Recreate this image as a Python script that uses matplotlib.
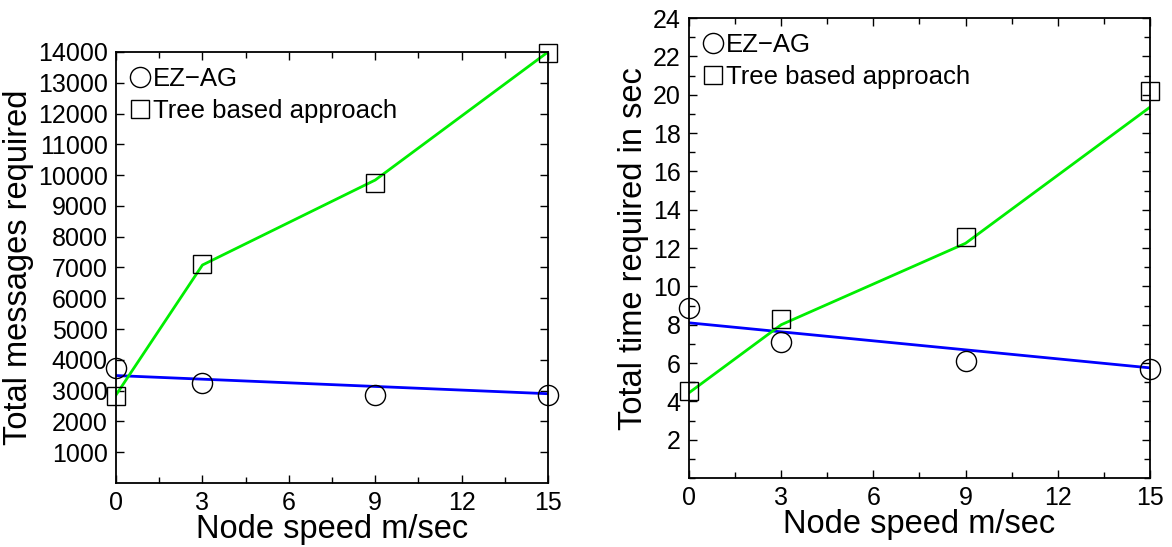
import matplotlib
matplotlib.use("Agg")
import matplotlib.pyplot as plt
from matplotlib.ticker import MultipleLocator, FixedLocator
from matplotlib.lines import Line2D

plt.rcParams['font.family'] = ['Liberation Sans', 'DejaVu Sans']

speed = [0, 3, 9, 15]
fit_speed = [0, 15]

# total messages
msgs_ezag = [3730, 3260, 2870, 2870]
msgs_tree = [2830, 7110, 9760, 13980]
msgs_ezag_fit = [3490, 2900]
msgs_tree_fit = [2860, 7080, 9840, 14000]

# total time (sec)
time_ezag = [8.85, 7.1, 6.1, 5.7]
time_tree = [4.55, 8.3, 12.6, 20.2]
time_ezag_fit = [8.1, 5.75]
time_tree_fit = [4.45, 8.0, 12.25, 19.35]

series_names = ['EZ\u2212AG', 'Tree based approach']
x_ticks = [0, 3, 6, 9, 12, 15]

fig = plt.figure(figsize=(11.72, 5.47), dpi=100)
ax1 = fig.add_axes([0.099, 0.117, 0.3686, 0.788])
ax2 = fig.add_axes([0.5879, 0.126, 0.3933, 0.841])


def draw_panel(ax, ezag, tree, ezag_fit, tree_fit):
    ax.plot(fit_speed, ezag_fit, color='#0000ff', lw=2.0, zorder=2)
    ax.plot(speed, tree_fit, color='#00ee00', lw=2.0, zorder=2)
    ax.plot(speed, ezag, ls='none', marker='o', ms=14.5, mfc='none',
            mec='black', mew=1.0, clip_on=False, zorder=3)
    ax.plot(speed, tree, ls='none', marker='s', ms=12.5, mfc='none',
            mec='black', mew=1.0, clip_on=False, zorder=3)
    ax.set_xlim(0, 15)
    ax.xaxis.set_major_locator(FixedLocator(x_ticks))
    ax.xaxis.set_minor_locator(MultipleLocator(1.5))
    ax.tick_params(which='both', direction='in', top=True, right=True,
                   labelsize=18, width=1.0)
    ax.tick_params(which='major', length=6, pad=6)
    ax.tick_params(which='minor', length=4)
    for sp in ax.spines.values():
        sp.set_linewidth(1.3)
    ax.set_xlabel('Node speed m/sec', fontsize=23.5, labelpad=-1)
    handles = [Line2D([], [], ls='none', marker='o', ms=14.5, mfc='none',
                      mec='black', mew=1.0),
               Line2D([], [], ls='none', marker='s', ms=12.5, mfc='none',
                      mec='black', mew=1.0)]
    ax.legend(handles, series_names, loc='upper left', frameon=False,
              fontsize=18.5, handlelength=0.7, handletextpad=0.15,
              labelspacing=0.3, borderaxespad=0.3, borderpad=0.3)


draw_panel(ax1, msgs_ezag, msgs_tree, msgs_ezag_fit, msgs_tree_fit)
ax1.set_ylim(0, 14000)
ax1.yaxis.set_major_locator(FixedLocator(range(1000, 14001, 1000)))
ax1.set_ylabel('Total messages required', fontsize=23.5, labelpad=3)

draw_panel(ax2, time_ezag, time_tree, time_ezag_fit, time_tree_fit)
ax2.set_ylim(0, 24)
ax2.yaxis.set_major_locator(FixedLocator(range(2, 25, 2)))
ax2.yaxis.set_minor_locator(MultipleLocator(1))
ax2.set_ylabel('Total time required in sec', fontsize=23.5, labelpad=3)

fig.savefig('out.png', dpi=100)
